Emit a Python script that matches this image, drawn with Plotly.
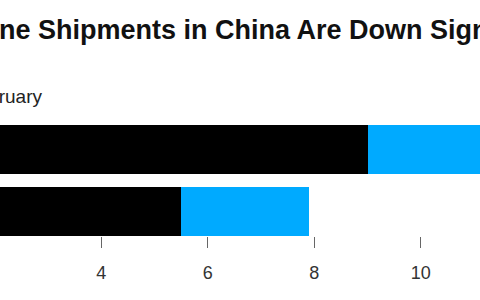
import plotly.graph_objects as go

categories = ["2019", "2018"]
series_a_name = "Series A"
series_a = [5.5, 9.0]
series_b_name = "Series B"
series_b = [2.4, 3.0]
tick_vals = [2, 4, 6, 8, 10]
tick_text = ["2", "4", "6", "8", "10"]

title_text = "Smartphone Shipments in China Are Down Significantly"
subtitle_text = "Million units, January–February"

W, H = 480, 300
ML, MR, MT, MB = 0, 0, 110, 64
PH = H - MT - MB

def px_x(p):
    return p / (W - ML - MR)

def px_y(p):
    return (H - MB - p) / PH

fig = go.Figure()
fig.add_trace(go.Bar(y=categories, x=series_a, name=series_a_name, orientation="h",
                     marker=dict(color="#000000", line=dict(width=0)), width=0.78))
fig.add_trace(go.Bar(y=categories, x=series_b, name=series_b_name, orientation="h",
                     marker=dict(color="#00aaff", line=dict(width=0)), width=0.78))

fig.update_layout(
    barmode="stack",
    width=W, height=H,
    margin=dict(l=ML, r=MR, t=MT, b=MB, pad=0),
    paper_bgcolor="white", plot_bgcolor="white",
    showlegend=False,
    font=dict(family="Liberation Sans, Arial, sans-serif", color="#333333"),
    xaxis=dict(range=[2.10, 11.11], tickvals=tick_vals, ticktext=tick_text,
               ticks="outside", ticklen=11, tickwidth=1, tickcolor="#666666",
               ticklabelstandoff=9,
               showgrid=False, zeroline=False, showline=False,
               tickfont=dict(size=18, color="#333333")),
    yaxis=dict(type="category", range=[-0.395, 1.637], showticklabels=False,
               showgrid=False, zeroline=False, showline=False, ticks=""),
)

fig.add_annotation(text="<b>" + title_text + "</b>", xref="paper", yref="paper",
                   x=px_x(-129), y=px_y(30), xanchor="left", yanchor="middle",
                   showarrow=False, font=dict(size=27, color="#111111"))
fig.add_annotation(text=subtitle_text, xref="paper", yref="paper",
                   x=px_x(45), y=px_y(97), xanchor="right", yanchor="middle",
                   showarrow=False, font=dict(size=19, color="#222222"))

fig.write_html("out.html")
